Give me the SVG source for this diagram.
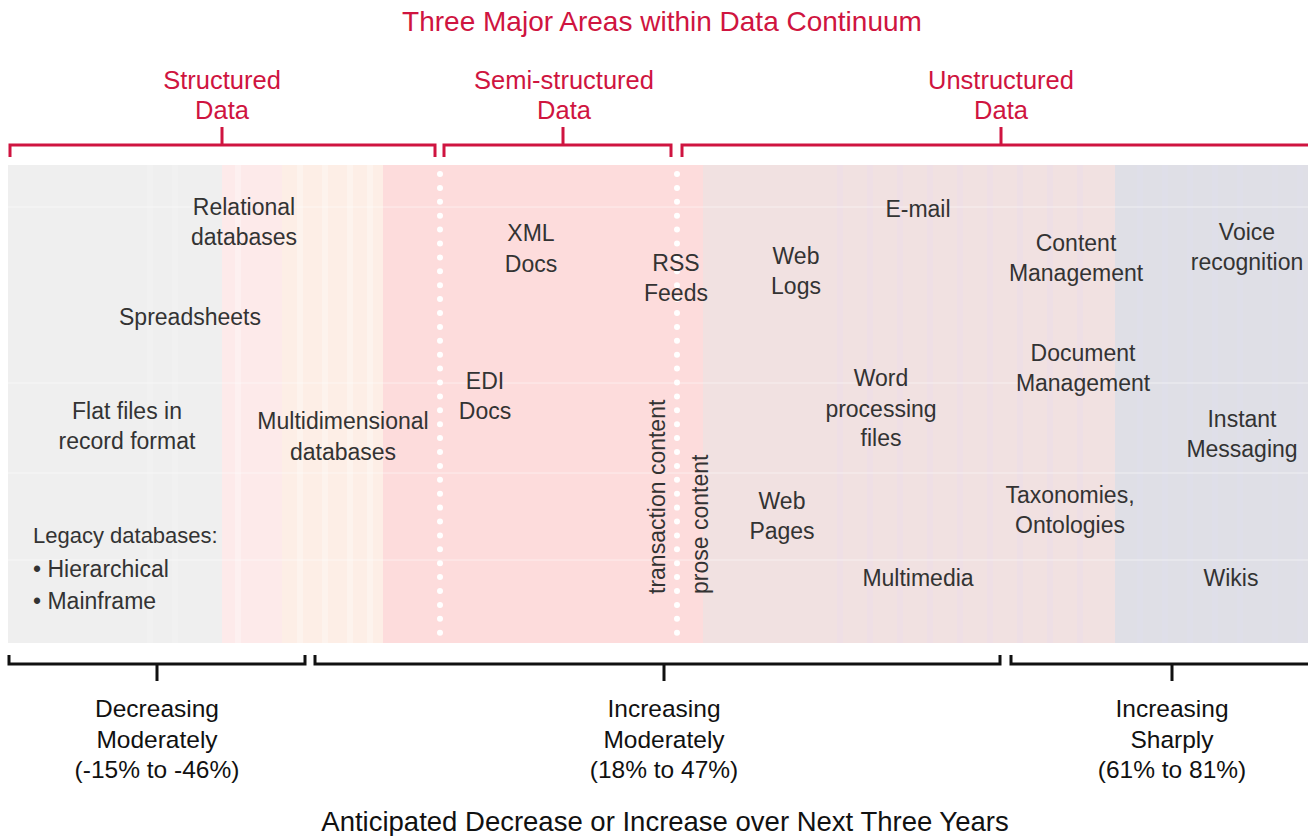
<svg xmlns="http://www.w3.org/2000/svg" width="1308" height="836" viewBox="0 0 1308 836">
<style>
.t{font-family:"Liberation Sans Narrow","Liberation Sans",Arial,sans-serif;font-size:23px;fill:#333;text-anchor:middle}
.l{text-anchor:start}
.r{fill:#cf1440;font-size:25.5px}
.b{fill:#111;font-size:24.5px}
.rb{fill:none;stroke:#cf1440;stroke-width:3}
.kb{fill:none;stroke:#111;stroke-width:3}
.dot{stroke:#fff;stroke-width:6;stroke-linecap:round;stroke-dasharray:0 13.9;fill:none}
.st{stroke-width:6;fill:none}
</style>
<rect width="1308" height="836" fill="#fff"/>
<g id="band">
<rect x="8" y="165" width="1300" height="478" fill="#efefef"/>
<rect x="222" y="165" width="60" height="478" fill="#fdeaea"/>
<rect x="282" y="165" width="101" height="478" fill="#fdeee6"/>
<rect x="383" y="165" width="320" height="478" fill="#fddcdc"/>
<rect x="703" y="165" width="412" height="478" fill="#f1e1e1"/>
<rect x="1115" y="165" width="193" height="478" fill="#dfdfe6"/>
<g opacity="0.3">
<path class="st" stroke="#f6f6f6" d="M150 165V643M175 165V643"/>
<path class="st" stroke="#fff" d="M238 165V643M300 165V643M325 165V643M350 165V643M370 165V643"/>
<path class="st" stroke="#eadbf0" d="M840 165V643M870 165V643M900 165V643M930 165V643M960 165V643M990 165V643M1020 165V643M1050 165V643M1080 165V643"/>
<path class="st" stroke="#e0e0f0" d="M1140 165V643M1165 165V643M1190 165V643M1215 165V643M1240 165V643M1275 165V643M1300 165V643"/>
</g>
<path d="M8 207H1308M8 383H1308M8 473H1308M8 560H1308" stroke="#fff" stroke-width="1" opacity="0.5"/>
<path class="dot" d="M440 174V640"/>
<path class="dot" d="M677 174V640"/>
</g>
<g id="connectors">
<path class="rb" d="M10 157V145H435V157M222 145V127"/>
<path class="rb" d="M444 157V145H671V157M563 145V127"/>
<path class="rb" d="M682 157V145H1308M1001 145V127"/>
<path class="kb" d="M9 655V664H305V655M157 664V681"/>
<path class="kb" d="M315 655V664H1000V655M664 664V681"/>
<path class="kb" d="M1011 655V664H1308M1172 664V681"/>
</g>
<g id="titles">
<text class="t r" x="662" y="31" style="font-size:28px">Three Major Areas within Data Continuum</text>
<text class="t r" x="222" y="89">Structured</text><text class="t r" x="222" y="119">Data</text>
<text class="t r" x="564" y="89">Semi-structured</text><text class="t r" x="564" y="119">Data</text>
<text class="t r" x="1001" y="89">Unstructured</text><text class="t r" x="1001" y="119">Data</text>
<text class="t b" x="665" y="831" style="font-size:27.5px">Anticipated Decrease or Increase over Next Three Years</text>
</g>
<g id="trend-decreasing"><text class="t b" x="157" y="717">Decreasing</text><text class="t b" x="157" y="748">Moderately</text><text class="t b" x="157" y="778">(-15% to -46%)</text></g>
<g id="trend-moderate"><text class="t b" x="664" y="717">Increasing</text><text class="t b" x="664" y="748">Moderately</text><text class="t b" x="664" y="778">(18% to 47%)</text></g>
<g id="trend-sharp"><text class="t b" x="1172" y="717">Increasing</text><text class="t b" x="1172" y="748">Sharply</text><text class="t b" x="1172" y="778">(61% to 81%)</text></g>
<g id="relational"><text class="t" x="244" y="215">Relational</text><text class="t" x="244" y="245">databases</text></g>
<g id="spreadsheets"><text class="t" x="190" y="325">Spreadsheets</text></g>
<g id="flatfiles"><text class="t" x="127" y="419">Flat files in</text><text class="t" x="127" y="449">record format</text></g>
<g id="multidim"><text class="t" x="343" y="429">Multidimensional</text><text class="t" x="343" y="460">databases</text></g>
<g id="legacy"><text class="t l" x="33" y="543" style="font-size:22px">Legacy databases:</text><text class="t l" x="33" y="577">• Hierarchical</text><text class="t l" x="33" y="609">• Mainframe</text></g>
<g id="xml"><text class="t" x="531" y="241">XML</text><text class="t" x="531" y="272">Docs</text></g>
<g id="rss"><text class="t" x="676" y="271">RSS</text><text class="t" x="676" y="301">Feeds</text></g>
<g id="edi"><text class="t" x="485" y="389">EDI</text><text class="t" x="485" y="419">Docs</text></g>
<g id="transaction"><text class="t l" transform="translate(665 594) rotate(-90)">transaction content</text></g>
<g id="prose"><text class="t l" transform="translate(708 594) rotate(-90)">prose content</text></g>
<g id="email"><text class="t" x="918" y="217">E-mail</text></g>
<g id="weblogs"><text class="t" x="796" y="264">Web</text><text class="t" x="796" y="294">Logs</text></g>
<g id="contentmgmt"><text class="t" x="1076" y="251">Content</text><text class="t" x="1076" y="281">Management</text></g>
<g id="voice"><text class="t" x="1247" y="240">Voice</text><text class="t" x="1247" y="270">recognition</text></g>
<g id="docmgmt"><text class="t" x="1083" y="361">Document</text><text class="t" x="1083" y="391">Management</text></g>
<g id="word"><text class="t" x="881" y="386">Word</text><text class="t" x="881" y="417">processing</text><text class="t" x="881" y="446">files</text></g>
<g id="im"><text class="t" x="1242" y="427">Instant</text><text class="t" x="1242" y="457">Messaging</text></g>
<g id="taxonomies"><text class="t" x="1070" y="503">Taxonomies,</text><text class="t" x="1070" y="533">Ontologies</text></g>
<g id="webpages"><text class="t" x="782" y="509">Web</text><text class="t" x="782" y="539">Pages</text></g>
<g id="multimedia"><text class="t" x="918" y="586">Multimedia</text></g>
<g id="wikis"><text class="t" x="1231" y="586">Wikis</text></g>
</svg>
